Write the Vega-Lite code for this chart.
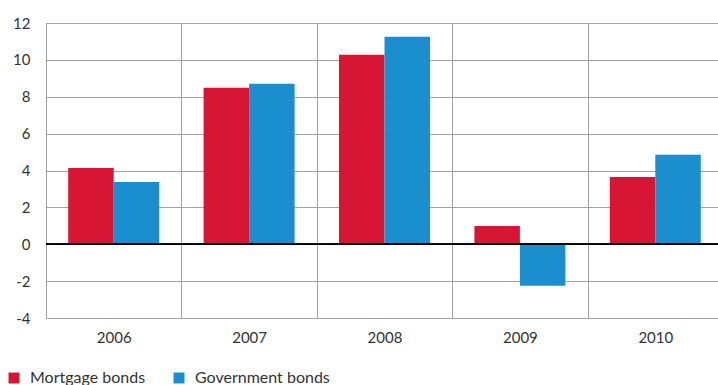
{
  "$schema": "https://vega.github.io/schema/vega-lite/v6.json",
  "width": 677,
  "height": 295,
  "autosize": {"type": "none"},
  "padding": {"left": 46, "top": 23, "right": 0, "bottom": 67},
  "background": "white",
  "config": {
    "view": {"stroke": null},
    "font": "Lato",
    "axis": {"labelFont": "Lato", "labelColor": "#333333", "labelFontSize": 15}
  },
  "data": {
    "values": [
      {"year": "2006", "series": "Mortgage bonds", "value": 4.14},
      {"year": "2006", "series": "Government bonds", "value": 3.38},
      {"year": "2007", "series": "Mortgage bonds", "value": 8.49},
      {"year": "2007", "series": "Government bonds", "value": 8.7},
      {"year": "2008", "series": "Mortgage bonds", "value": 10.28},
      {"year": "2008", "series": "Government bonds", "value": 11.25},
      {"year": "2009", "series": "Mortgage bonds", "value": 0.99},
      {"year": "2009", "series": "Government bonds", "value": -2.25},
      {"year": "2010", "series": "Mortgage bonds", "value": 3.65},
      {"year": "2010", "series": "Government bonds", "value": 4.85}
    ]
  },
  "layer": [
    {
      "mark": {"type": "bar"},
      "encoding": {
        "x": {
          "field": "year", "type": "nominal",
          "scale": {"paddingInner": 0, "paddingOuter": 0},
          "axis": {
            "title": null, "labelAngle": 0, "ticks": false, "domain": true, "domainColor": "#a0a0a0",
            "grid": true, "gridColor": "#a0a0a0", "gridWidth": 1, "tickBand": "extent",
            "labelPadding": 12
          }
        },
        "xOffset": {
          "field": "series", "type": "nominal",
          "sort": ["Mortgage bonds", "Government bonds"],
          "scale": {"paddingInner": 0, "paddingOuter": 0.488}
        },
        "y": {
          "field": "value", "type": "quantitative",
          "scale": {"domain": [-4, 12], "nice": false, "zero": false},
          "axis": {
            "title": null, "values": [-4, -2, 0, 2, 4, 6, 8, 10, 12], "ticks": false,
            "labelOverlap": false, "labelExpr": "replace(datum.label, '\u2212', '-')",
            "domain": true, "domainColor": "#a0a0a0", "grid": true, "gridColor": "#a0a0a0", "gridWidth": 1,
            "labelPadding": 16
          }
        },
        "color": {
          "field": "series", "type": "nominal",
          "sort": ["Mortgage bonds", "Government bonds"],
          "scale": {"domain": ["Mortgage bonds", "Government bonds"], "range": ["#d71636", "#1b8fce"]},
          "legend": {
            "title": null, "orient": "none", "direction": "horizontal",
            "legendX": -40, "legendY": 347,
            "symbolType": "square", "symbolSize": 120, "symbolStrokeWidth": 0,
            "labelFont": "Lato", "labelFontSize": 16, "labelColor": "#333333",
            "labelOffset": 8, "columnPadding": 25
          }
        }
      }
    },
    {
      "mark": {"type": "rule", "color": "#000000", "strokeWidth": 1.2},
      "encoding": {
        "y": {
          "datum": 0, "type": "quantitative",
          "scale": {"domain": [-4, 12], "nice": false, "zero": false},
          "axis": {
            "title": null, "values": [-4, -2, 0, 2, 4, 6, 8, 10, 12], "ticks": false,
            "labelOverlap": false, "labelExpr": "replace(datum.label, '\u2212', '-')",
            "domain": true, "domainColor": "#a0a0a0", "grid": true, "gridColor": "#a0a0a0", "gridWidth": 1,
            "labelPadding": 16
          }
        }
      }
    }
  ]
}
